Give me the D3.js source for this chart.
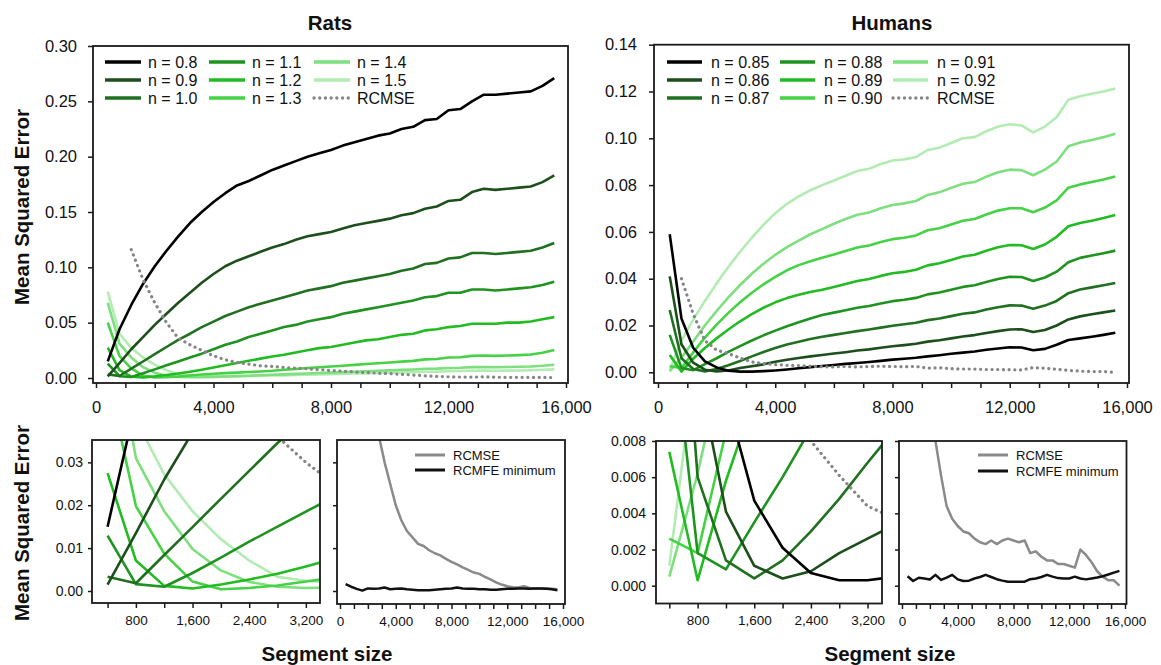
<!DOCTYPE html>
<html><head><meta charset="utf-8">
<script src="https://cdn.jsdelivr.net/npm/d3@7"></script>
<style>
body{margin:0;background:#fff;}
svg{display:block;}
</style></head><body>
<svg id="chart" width="1161" height="665"></svg>
<script>
// ---------------- DATA ----------------
const segmentSizes = [400,800,1200,1600,2000,2400,2800,3200,3600,4000,4400,4800,5200,5600,6000,6400,6800,7200,7600,8000,8400,8800,9200,9600,10000,10400,10800,11200,11600,12000,12400,12800,13200,13600,14000,14400,14800,15200,15600];

const ratsLabels = ["n = 0.8","n = 0.9","n = 1.0","n = 1.1","n = 1.2","n = 1.3","n = 1.4","n = 1.5"];
const ratsN08 = [0.015,0.044,0.066,0.085,0.101,0.115,0.128,0.140,0.150,0.159,0.167,0.174,0.178,0.183,0.188,0.192,0.196,0.200,0.203,0.206,0.210,0.213,0.216,0.219,0.221,0.225,0.227,0.233,0.234,0.242,0.243,0.250,0.256,0.256,0.257,0.258,0.259,0.264,0.271];
const ratsN09 = [0.0015,0.0135,0.026,0.037,0.048,0.058,0.068,0.077,0.086,0.094,0.101,0.106,0.110,0.114,0.118,0.121,0.125,0.128,0.130,0.132,0.135,0.138,0.140,0.142,0.144,0.147,0.149,0.153,0.155,0.160,0.161,0.168,0.171,0.170,0.171,0.172,0.173,0.177,0.183];
const ratsN10 = [0.0033,0.0018,0.0084,0.0149,0.0215,0.028,0.0345,0.040,0.046,0.051,0.056,0.060,0.064,0.067,0.070,0.073,0.076,0.079,0.081,0.083,0.086,0.088,0.090,0.092,0.094,0.097,0.099,0.103,0.104,0.108,0.109,0.113,0.113,0.112,0.113,0.114,0.115,0.118,0.122];
const ratsN11 = [0.0129,0.0016,0.0010,0.0042,0.0078,0.0115,0.0150,0.0185,0.022,0.026,0.030,0.033,0.037,0.040,0.043,0.046,0.048,0.051,0.053,0.055,0.058,0.060,0.062,0.064,0.066,0.068,0.070,0.073,0.074,0.077,0.077,0.080,0.080,0.079,0.080,0.081,0.082,0.084,0.087];
const ratsN12 = [0.0275,0.0071,0.0012,0.0006,0.0015,0.0027,0.0040,0.0057,0.0075,0.0095,0.0115,0.0135,0.0155,0.0175,0.0195,0.021,0.023,0.025,0.027,0.028,0.030,0.032,0.034,0.035,0.037,0.039,0.040,0.043,0.044,0.046,0.047,0.049,0.049,0.049,0.050,0.050,0.051,0.053,0.055];
const ratsN13 = [0.050,0.0198,0.0087,0.0022,0.0004,0.0007,0.0013,0.0022,0.0031,0.0038,0.0044,0.0049,0.0054,0.0059,0.0065,0.0074,0.0082,0.0090,0.0097,0.0104,0.0111,0.0119,0.0126,0.0133,0.0140,0.0148,0.0155,0.0168,0.0172,0.0185,0.0188,0.0200,0.0203,0.0200,0.0203,0.0207,0.0212,0.0228,0.0254];
const ratsN14 = [0.068,0.031,0.0186,0.0098,0.0048,0.0021,0.0010,0.0007,0.0008,0.0010,0.0013,0.0017,0.0021,0.0025,0.0029,0.0033,0.0037,0.0041,0.0045,0.0049,0.0053,0.0057,0.0061,0.0065,0.0069,0.0073,0.0077,0.0083,0.0085,0.0091,0.0092,0.0098,0.0099,0.0097,0.0099,0.0101,0.0104,0.0110,0.0120];
const ratsN15 = [0.078,0.040,0.0272,0.0186,0.0121,0.0071,0.0033,0.0024,0.0019,0.0016,0.0015,0.0016,0.0018,0.0020,0.0022,0.0024,0.0027,0.0030,0.0032,0.0035,0.0037,0.0040,0.0042,0.0045,0.0048,0.0050,0.0053,0.0057,0.0058,0.0062,0.0063,0.0066,0.0067,0.0066,0.0067,0.0068,0.0070,0.0074,0.0078];
const ratsRCMSE = [null,null,0.116,0.089,0.068,0.050,0.036,0.030,0.025,0.020,0.0165,0.014,0.0125,0.011,0.0105,0.0095,0.0088,0.0083,0.0075,0.0068,0.0062,0.0055,0.0049,0.0043,0.0040,0.0033,0.0027,0.0020,0.0015,0.0011,0.0009,0.0008,0.0011,0.0007,0.0006,0.0006,0.0006,0.0005,0.0004];
const ratsMinimum = [0.0016,0.0010,0.0005,0.0001,0.0006,0.0005,0.0006,0.0008,0.0004,0.0005,0.0006,0.0004,0.0003,0.0002,0.0002,0.0002,0.0003,0.0004,0.0005,0.0006,0.0008,0.0006,0.0005,0.0005,0.0004,0.0004,0.0003,0.0003,0.0004,0.0005,0.0005,0.0006,0.0006,0.0005,0.0006,0.0006,0.0005,0.0004,0.0002];

const humansLabels = ["n = 0.85","n = 0.86","n = 0.87","n = 0.88","n = 0.89","n = 0.90","n = 0.91","n = 0.92"];
const humansN085 = [0.059,0.023,0.0105,0.0047,0.0021,0.0007,0.0003,0.0003,0.0005,0.0008,0.0012,0.0017,0.0022,0.0027,0.0031,0.0036,0.0040,0.0044,0.0049,0.0054,0.0058,0.0062,0.0068,0.0073,0.0079,0.0084,0.0089,0.0096,0.0102,0.0107,0.0106,0.0094,0.0100,0.0118,0.0138,0.0145,0.0152,0.0160,0.0169];
const humansN086 = [0.041,0.012,0.0041,0.0011,0.0004,0.0008,0.0018,0.0026,0.0034,0.0045,0.0054,0.0061,0.0068,0.0074,0.0080,0.0086,0.0093,0.0098,0.0105,0.0111,0.0116,0.0122,0.0131,0.0137,0.0145,0.0153,0.0159,0.0168,0.0176,0.0183,0.0184,0.0172,0.0181,0.0200,0.0226,0.0239,0.0248,0.0256,0.0264];
const humansN087 = [0.0266,0.0060,0.0014,0.0004,0.0014,0.0030,0.0048,0.0068,0.0087,0.0104,0.0119,0.0131,0.0142,0.0152,0.016,0.0168,0.0176,0.0183,0.0191,0.0199,0.0205,0.0212,0.0223,0.023,0.024,0.025,0.0256,0.0268,0.0278,0.0286,0.0285,0.0272,0.0285,0.0305,0.0338,0.0354,0.0363,0.0372,0.0382];
const humansN088 = [0.016,0.0018,0.0009,0.0035,0.0060,0.0087,0.0112,0.0136,0.0158,0.0178,0.0197,0.0214,0.0230,0.0245,0.0255,0.0265,0.0276,0.0283,0.0294,0.0304,0.031,0.0318,0.0333,0.0341,0.0353,0.0365,0.0372,0.0386,0.0399,0.0408,0.0407,0.0390,0.0405,0.0430,0.0470,0.0489,0.0499,0.0509,0.052];
const humansN089 = [0.0074,0.0003,0.0058,0.0104,0.0145,0.0183,0.0218,0.0249,0.0276,0.0299,0.0317,0.0331,0.0343,0.0353,0.0365,0.0377,0.039,0.0399,0.0412,0.0423,0.0429,0.0438,0.0457,0.0466,0.048,0.0495,0.0502,0.0519,0.0534,0.0544,0.0543,0.0527,0.0546,0.0579,0.0624,0.0638,0.0648,0.0659,0.0672];
const humansN090 = [0.0026,0.0018,0.0085,0.0148,0.0204,0.0254,0.0299,0.0340,0.0376,0.0408,0.0436,0.0458,0.0475,0.0490,0.0503,0.0518,0.0533,0.0542,0.0557,0.0569,0.0575,0.0585,0.0607,0.0616,0.0632,0.0648,0.0655,0.0674,0.0691,0.0701,0.0701,0.0684,0.0704,0.0735,0.0789,0.0803,0.0813,0.0824,0.0837];
const humansN091 = [0.0005,0.0062,0.0132,0.0200,0.0262,0.0320,0.0373,0.0421,0.0464,0.0502,0.0535,0.0563,0.0590,0.0612,0.0635,0.0655,0.0673,0.0683,0.0701,0.0715,0.0722,0.0732,0.0758,0.0769,0.0788,0.0806,0.0813,0.0836,0.0855,0.0866,0.0864,0.0842,0.0866,0.0901,0.0966,0.0982,0.0993,0.1005,0.1019];
const humansN092 = [0.0011,0.0135,0.0225,0.0305,0.038,0.045,0.0515,0.0575,0.063,0.068,0.072,0.0752,0.0778,0.080,0.082,0.084,0.086,0.087,0.089,0.0905,0.091,0.092,0.095,0.096,0.098,0.100,0.1005,0.103,0.105,0.106,0.1055,0.1025,0.105,0.109,0.1165,0.118,0.119,0.120,0.1213];
const humansRCMSE = [null,0.040,0.025,0.0135,0.0095,0.0080,0.0061,0.0044,0.0037,0.0033,0.0030,0.0029,0.0026,0.0024,0.0023,0.0025,0.0023,0.0025,0.0026,0.0025,0.0024,0.0025,0.0018,0.0019,0.0016,0.0014,0.0014,0.0012,0.0012,0.0011,0.0010,0.0020,0.0017,0.0013,0.0008,0.0005,0.0003,0.0003,0.0000];
const humansMinimum = [0.00052,0.00026,0.00044,0.00040,0.00034,0.00060,0.00032,0.00045,0.00060,0.00035,0.00026,0.00028,0.00040,0.00048,0.00060,0.00048,0.00036,0.00028,0.00022,0.00022,0.00022,0.00022,0.00036,0.00040,0.00048,0.00060,0.00050,0.00042,0.00040,0.00040,0.00050,0.00040,0.00035,0.00040,0.00045,0.00052,0.00062,0.00072,0.00082];

const seriesColors = ["#000000","#1d4f1d","#207020","#1f931f","#22bb22","#45d245","#7ddf7d","#b3ecb3"];

const mainXLabels = [0,4000,8000,12000,16000];
const insetLeftXLabels = [800,1600,2400,3200];
const insetRightXLabels = [0,4000,8000,12000,16000];
const ratsMainYTicks = [0,0.05,0.10,0.15,0.20,0.25,0.30];
const humansMainYTicks = [0,0.02,0.04,0.06,0.08,0.10,0.12,0.14];
const ratsInsetYTicks = [0,0.01,0.02,0.03];
const humansInsetYTicks = [0,0.002,0.004,0.006,0.008];

// ---------------- DRAWING ----------------
const FONT = 'Arial, "Liberation Sans", Helvetica, sans-serif';
const svg = d3.select("#chart").attr("font-family", FONT);
svg.append("rect").attr("width",1161).attr("height",665).attr("fill","#fff");
let clipN = 0;

function panel(p) {
  const g = svg.append("g");
  const x = d3.scaleLinear().domain(p.xDomain).range(p.xRange);
  const y = d3.scaleLinear().domain(p.yDomain).range(p.yRange);
  const [bl, bt, br, bb] = p.box;
  const cid = "clip" + (clipN++);
  svg.append("clipPath").attr("id", cid).append("rect")
    .attr("x", bl).attr("y", bt).attr("width", br - bl).attr("height", bb - bt);
  const plot = g.append("g").attr("clip-path", `url(#${cid})`);
  const line = d3.line().defined(d => d[1] != null).x(d => x(d[0])).y(d => y(d[1]));
  p.series.forEach(s => {
    plot.append("path")
      .datum(segmentSizes.map((sz, i) => [sz, s.values[i]]))
      .attr("d", line)
      .attr("fill", "none")
      .attr("stroke", s.color)
      .attr("stroke-width", s.width || 2.6)
      .attr("stroke-linejoin", "round")
      .attr("stroke-linecap", s.dotted ? "round" : "butt")
      .attr("stroke-dasharray", s.dotted ? "0.1,5.6" : null);
  });
  g.append("rect").attr("x", bl).attr("y", bt).attr("width", br - bl).attr("height", bb - bt)
    .attr("fill", "none").attr("stroke", "#1a1a1a").attr("stroke-width", 1.8);

  const fmtX = d3.format(",");
  const xa = g.append("g").attr("transform", `translate(0,${bb})`)
    .call(d3.axisBottom(x).tickValues(p.xTickAll).tickSize(5).tickPadding(p.xPad)
      .tickFormat(d => p.xLabels.includes(d) ? fmtX(d) : ""));
  xa.select(".domain").remove();
  xa.attr("font-family", FONT).attr("font-size", p.xFont).attr("color", "#1a1a1a");
  xa.selectAll("line").attr("stroke-width", 1.5);
  xa.selectAll("text").attr("fill", "#111");

  const ya = g.append("g").attr("transform", `translate(${bl},0)`)
    .call(d3.axisLeft(y).tickValues(p.yTicks).tickSize(p.yTickSize || 5).tickPadding(p.yPad)
      .tickFormat(p.showY ? d3.format(p.yFmt) : () => ""));
  ya.select(".domain").remove();
  ya.attr("font-family", FONT).attr("font-size", p.yFont).attr("color", "#1a1a1a");
  ya.selectAll("line").attr("stroke-width", 1.5);
  ya.selectAll("text").attr("fill", "#111");
  return {x, y, g};
}

function mainSeries(arrs) {
  const s = arrs.map((v, i) => ({values: v, color: seriesColors[i]}));
  return s.slice().reverse();
}

const ratsArrs = [ratsN08, ratsN09, ratsN10, ratsN11, ratsN12, ratsN13, ratsN14, ratsN15];
const humansArrs = [humansN085, humansN086, humansN087, humansN088, humansN089, humansN090, humansN091, humansN092];
const dottedGrey = "#858585";

// Rats main
panel({
  box: [93, 46, 568, 383], xDomain: [0, 16000], xRange: [96, 566],
  yDomain: [0, 0.30], yRange: [378, 46],
  series: mainSeries(ratsArrs).concat([{values: ratsRCMSE, color: dottedGrey, dotted: true, width: 3.2}]),
  xTickAll: d3.range(0, 16001, 1000), xLabels: mainXLabels, xPad: 13, xFont: 16.5,
  yTicks: ratsMainYTicks, yFmt: ".2f", showY: true, yPad: 11, yFont: 16.5
});
// Humans main
panel({
  box: [654, 44.7, 1129, 383], xDomain: [0, 16000], xRange: [658, 1127],
  yDomain: [0, 0.14], yRange: [372.3, 44.7],
  series: mainSeries(humansArrs).concat([{values: humansRCMSE, color: dottedGrey, dotted: true, width: 3.2}]),
  xTickAll: d3.range(0, 16001, 1000), xLabels: mainXLabels, xPad: 13, xFont: 16.5,
  yTicks: humansMainYTicks, yFmt: ".2f", showY: true, yPad: 12, yFont: 16.5
});
// Rats inset left
panel({
  box: [92, 440, 320, 603], xDomain: [180, 3400], xRange: [92, 320],
  yDomain: [0, 0.035], yRange: [591, 440.9],
  series: mainSeries(ratsArrs).concat([{values: ratsRCMSE, color: dottedGrey, dotted: true, width: 3.2}]),
  xTickAll: d3.range(400, 3201, 400), xLabels: insetLeftXLabels, xPad: 7, xFont: 13.5,
  yTicks: ratsInsetYTicks, yFmt: ".2f", showY: true, yPad: 5, yFont: 14, yTickSize: 4
});
// Rats inset right
panel({
  box: [337, 440, 565, 604], xDomain: [0, 16000], xRange: [340, 563],
  yDomain: [0, 0.035], yRange: [591, 440.9],
  series: [{values: ratsRCMSE, color: "#8a8a8a", width: 2.5}, {values: ratsMinimum, color: "#111", width: 2.5}],
  xTickAll: d3.range(0, 16001, 1000), xLabels: insetRightXLabels, xPad: 7, xFont: 13.5,
  yTicks: ratsInsetYTicks, yFmt: ".2f", showY: false, yPad: 5, yFont: 14, yTickSize: 4
});
// Humans inset left
panel({
  box: [656, 441, 882, 603.5], xDomain: [212, 3400], xRange: [656, 881.7],
  yDomain: [0, 0.008], yRange: [585.7, 441],
  series: mainSeries(humansArrs).concat([{values: humansRCMSE, color: dottedGrey, dotted: true, width: 3.2}]),
  xTickAll: d3.range(400, 3201, 400), xLabels: insetLeftXLabels, xPad: 7, xFont: 13.5,
  yTicks: humansInsetYTicks, yFmt: ".3f", showY: true, yPad: 6, yFont: 14, yTickSize: 4
});
// Humans inset right
panel({
  box: [899, 441, 1126.5, 604], xDomain: [0, 16000], xRange: [902, 1125],
  yDomain: [0, 0.008], yRange: [585.7, 441],
  series: [{values: humansRCMSE, color: "#8a8a8a", width: 2.5}, {values: humansMinimum, color: "#111", width: 2.5}],
  xTickAll: d3.range(0, 16001, 1000), xLabels: insetRightXLabels, xPad: 7, xFont: 13.5,
  yTicks: humansInsetYTicks, yFmt: ".3f", showY: false, yPad: 6, yFont: 14, yTickSize: 4
});

// Legends (main)
function mainLegend(labels, cols, rows, lineLen, textGap) {
  const items = labels.map((l, i) => ({label: l, color: seriesColors[i], dotted: false}));
  items.push({label: "RCMSE", color: dottedGrey, dotted: true});
  const lg = svg.append("g");
  items.forEach((it, i) => {
    const cx = cols[Math.floor(i / 3)], cy = rows[i % 3];
    lg.append("line").attr("x1", cx).attr("x2", cx + lineLen).attr("y1", cy).attr("y2", cy)
      .attr("stroke", it.color).attr("stroke-width", 3.3)
      .attr("stroke-linecap", it.dotted ? "round" : "butt")
      .attr("stroke-dasharray", it.dotted ? "0.1,5.6" : null);
    lg.append("text").attr("x", cx + lineLen + textGap).attr("y", cy).attr("dy", "0.36em")
      .attr("font-size", 16).attr("fill", "#111").text(it.label);
  });
}
mainLegend(ratsLabels, [105, 209, 314], [62, 80, 98], 36, 7);
mainLegend(humansLabels, [667, 780, 893], [62, 80, 98], 35, 9);

// Legends (insets)
function insetLegend(x0, rows) {
  const items = [{label: "RCMSE", color: "#8a8a8a"}, {label: "RCMFE minimum", color: "#111"}];
  items.forEach((it, i) => {
    svg.append("line").attr("x1", x0).attr("x2", x0 + 30).attr("y1", rows[i]).attr("y2", rows[i])
      .attr("stroke", it.color).attr("stroke-width", 3);
    svg.append("text").attr("x", x0 + 38).attr("y", rows[i]).attr("dy", "0.36em")
      .attr("font-size", 13).attr("fill", "#111").text(it.label);
  });
}
insetLegend(415, [455, 470]);
insetLegend(978, [455, 471]);

// Titles and axis titles
svg.append("text").attr("x", 330).attr("y", 23).attr("dy", "0.35em").attr("text-anchor", "middle")
  .attr("font-size", 20.5).attr("font-weight", "bold").attr("fill", "#111").text("Rats");
svg.append("text").attr("x", 892).attr("y", 23).attr("dy", "0.35em").attr("text-anchor", "middle")
  .attr("font-size", 20.5).attr("font-weight", "bold").attr("fill", "#111").text("Humans");
[[207], [523]].forEach(([cy]) => {
  svg.append("text").attr("transform", `translate(22,${cy}) rotate(-90)`).attr("dy", "0.35em")
    .attr("text-anchor", "middle").attr("font-size", 20.5).attr("font-weight", "bold").attr("fill", "#111")
    .text("Mean Squared Error");
});
[[327], [890]].forEach(([cx]) => {
  svg.append("text").attr("x", cx).attr("y", 654).attr("dy", "0.35em").attr("text-anchor", "middle")
    .attr("font-size", 20.5).attr("font-weight", "bold").attr("fill", "#111").text("Segment size");
});
</script>
</body></html>
